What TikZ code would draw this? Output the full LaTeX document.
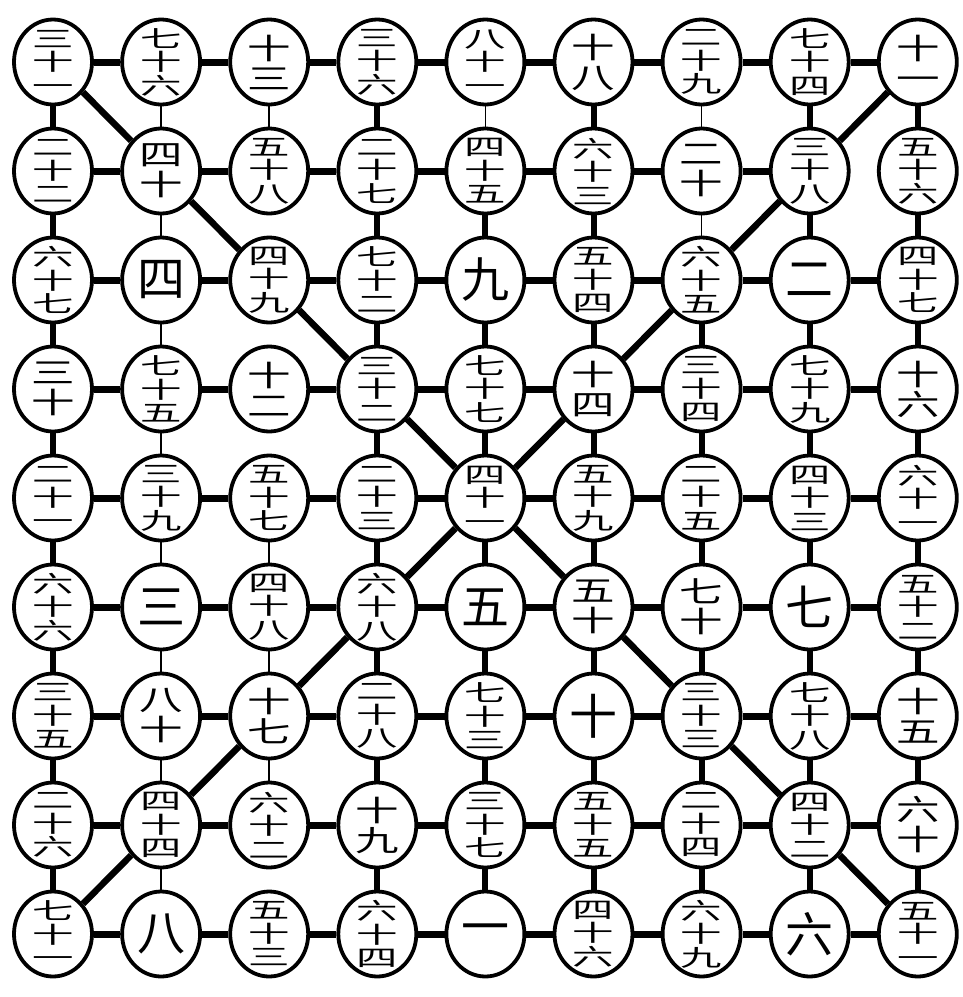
\documentclass[tikz,border=0pt]{standalone}
\usepackage{fontspec}
\newfontfamily\cjk{Noto Sans CJK SC}
\usetikzlibrary{shapes.geometric}
\tikzset{
  cell/.style={ellipse, draw=black, line width=3.8pt, minimum width=78pt, minimum height=85pt, inner sep=0pt, fill=white},
  lab1/.style={inner sep=0pt, font=\cjk\fontsize{48}{48}\selectfont},
  lab2/.style={inner sep=0pt, xscale=1.5, transform shape, align=center, font=\cjk\fontsize{29}{30}\selectfont},
  lab3/.style={inner sep=0pt, xscale=1.8, transform shape, align=center, font=\cjk\fontsize{23}{23.5}\selectfont},
  hlink/.style={line width=7pt},
  vlink/.style={line width=6pt},
  flink/.style={line width=1.6pt},
  dlink/.style={line width=6.5pt},
}
\newcommand\Cell[4]{%
  \node[cell] (n#1#2) at ({53+108.1*(#2-1)},{62+109*(#1-1)}) {};
  \begin{scope}[shift={(n#1#2.center)}]
    \node[lab#3] (t#1#2) at (0,0) {#4};
  \end{scope}}
\begin{document}
\begin{tikzpicture}[x=1pt,y=-1pt]
\useasboundingbox (0,0) rectangle (963,997);
% row 1
\Cell{1}{1}{3}{三\\十\\一}
\Cell{1}{2}{3}{七\\十\\六}
\Cell{1}{3}{2}{十\\三}
\Cell{1}{4}{3}{三\\十\\六}
\Cell{1}{5}{3}{八\\十\\一}
\Cell{1}{6}{2}{十\\八}
\Cell{1}{7}{3}{二\\十\\九}
\Cell{1}{8}{3}{七\\十\\四}
\Cell{1}{9}{2}{十\\一}
% row 2
\Cell{2}{1}{3}{二\\十\\二}
\Cell{2}{2}{2}{四\\十}
\Cell{2}{3}{3}{五\\十\\八}
\Cell{2}{4}{3}{二\\十\\七}
\Cell{2}{5}{3}{四\\十\\五}
\Cell{2}{6}{3}{六\\十\\三}
\Cell{2}{7}{2}{二\\十}
\Cell{2}{8}{3}{三\\十\\八}
\Cell{2}{9}{3}{五\\十\\六}
% row 3
\Cell{3}{1}{3}{六\\十\\七}
\Cell{3}{2}{1}{四}
\Cell{3}{3}{3}{四\\十\\九}
\Cell{3}{4}{3}{七\\十\\二}
\Cell{3}{5}{1}{九}
\Cell{3}{6}{3}{五\\十\\四}
\Cell{3}{7}{3}{六\\十\\五}
\Cell{3}{8}{1}{二}
\Cell{3}{9}{3}{四\\十\\七}
% row 4
\Cell{4}{1}{2}{三\\十}
\Cell{4}{2}{3}{七\\十\\五}
\Cell{4}{3}{2}{十\\二}
\Cell{4}{4}{3}{三\\十\\二}
\Cell{4}{5}{3}{七\\十\\七}
\Cell{4}{6}{2}{十\\四}
\Cell{4}{7}{3}{三\\十\\四}
\Cell{4}{8}{3}{七\\十\\九}
\Cell{4}{9}{2}{十\\六}
% row 5
\Cell{5}{1}{3}{二\\十\\一}
\Cell{5}{2}{3}{三\\十\\九}
\Cell{5}{3}{3}{五\\十\\七}
\Cell{5}{4}{3}{二\\十\\三}
\Cell{5}{5}{3}{四\\十\\一}
\Cell{5}{6}{3}{五\\十\\九}
\Cell{5}{7}{3}{二\\十\\五}
\Cell{5}{8}{3}{四\\十\\三}
\Cell{5}{9}{3}{六\\十\\一}
% row 6
\Cell{6}{1}{3}{六\\十\\六}
\Cell{6}{2}{1}{三}
\Cell{6}{3}{3}{四\\十\\八}
\Cell{6}{4}{3}{六\\十\\八}
\Cell{6}{5}{1}{五}
\Cell{6}{6}{2}{五\\十}
\Cell{6}{7}{2}{七\\十}
\Cell{6}{8}{1}{七}
\Cell{6}{9}{3}{五\\十\\二}
% row 7
\Cell{7}{1}{3}{三\\十\\五}
\Cell{7}{2}{2}{八\\十}
\Cell{7}{3}{2}{十\\七}
\Cell{7}{4}{3}{二\\十\\八}
\Cell{7}{5}{3}{七\\十\\三}
\Cell{7}{6}{1}{十}
\Cell{7}{7}{3}{三\\十\\三}
\Cell{7}{8}{3}{七\\十\\八}
\Cell{7}{9}{2}{十\\五}
% row 8
\Cell{8}{1}{3}{二\\十\\六}
\Cell{8}{2}{3}{四\\十\\四}
\Cell{8}{3}{3}{六\\十\\二}
\Cell{8}{4}{2}{十\\九}
\Cell{8}{5}{3}{三\\十\\七}
\Cell{8}{6}{3}{五\\十\\五}
\Cell{8}{7}{3}{二\\十\\四}
\Cell{8}{8}{3}{四\\十\\二}
\Cell{8}{9}{2}{六\\十}
% row 9
\Cell{9}{1}{3}{七\\十\\一}
\Cell{9}{2}{1}{八}
\Cell{9}{3}{3}{五\\十\\三}
\Cell{9}{4}{3}{六\\十\\四}
\Cell{9}{5}{1}{一}
\Cell{9}{6}{3}{四\\十\\六}
\Cell{9}{7}{3}{六\\十\\九}
\Cell{9}{8}{1}{六}
\Cell{9}{9}{3}{五\\十\\一}
% horizontal links
\foreach \r in {1,...,9}{
  \foreach \c [evaluate=\c as \d using int(\c+1)] in {1,...,8}{
    \ifnum\r\c=28 \else \draw[hlink] (n\r\c) -- (n\r\d); \fi
  }
}
% vertical links, thick
\foreach \c in {1,4,6,8,9}{
  \foreach \r [evaluate=\r as \s using int(\r+1)] in {1,...,8}{
    \draw[vlink] (n\r\c) -- (n\s\c);
  }
}
\foreach \r [evaluate=\r as \s using int(\r+1)] in {2,...,8}{
  \draw[vlink] (n\r5) -- (n\s5);
}
\foreach \r [evaluate=\r as \s using int(\r+1)] in {3,...,8}{
  \draw[vlink] (n\r7) -- (n\s7);
}
% vertical links, thin
\draw[flink] (n15) -- (n25);
\draw[flink] (n17) -- (n27);
\draw[flink] (n27) -- (n37);
\foreach \r [evaluate=\r as \s using int(\r+1)] in {1,...,8}{
  \draw[flink] (n\r2) -- (n\s2);
}
\foreach \r [evaluate=\r as \s using int(\r+1)] in {1,5,6,7}{
  \draw[flink] (n\r3) -- (n\s3);
}
% diagonals
\foreach \i [evaluate=\i as \j using int(\i+1), evaluate=\i as \k using int(10-\i), evaluate=\i as \l using int(9-\i)] in {1,...,8}{
  \draw[dlink] (n\i\i) -- (n\j\j);
  \draw[dlink] (n\i\k) -- (n\j\l);
}
\end{tikzpicture}
\end{document}
